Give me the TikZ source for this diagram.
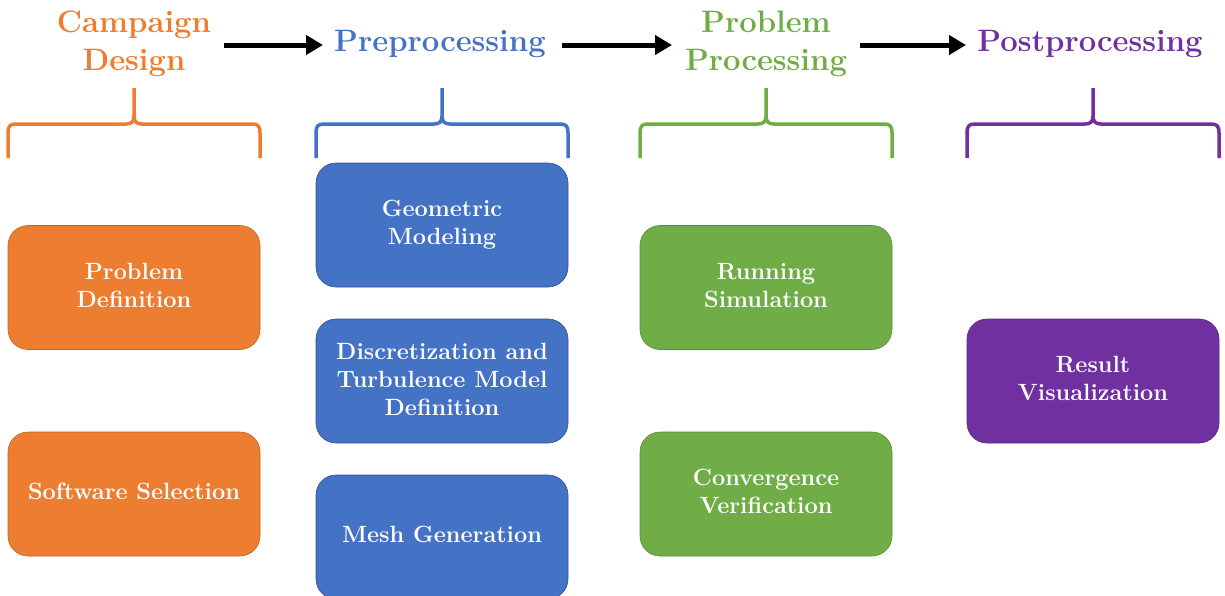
\documentclass[tikz,border=0pt]{standalone}
\usetikzlibrary{arrows.meta,positioning}
\definecolor{corange}{HTML}{ED7D31}
\definecolor{cblue}{HTML}{4472C4}
\definecolor{cgreen}{HTML}{70AD47}
\definecolor{cpurple}{HTML}{7030A0}
\begin{document}
\begin{tikzpicture}[x=1pt,y=-1pt,
  box/.style={rounded corners=20pt, minimum width=252pt, minimum height=124pt,
    align=center, text=white, font=\fontsize{23.5}{28}\selectfont\bfseries, line width=0.6pt},
  head/.style={align=center, inner sep=0pt, font=\fontsize{31}{38}\selectfont\bfseries},
  arr/.style={line width=5pt, -{Triangle[length=17pt,width=19pt]}},
  brace/.style={line width=3.5pt, line join=round, line cap=butt}]
\useasboundingbox (0,0) rectangle (1225,595);
\clip (0,0) rectangle (1225,595);
% headers
\node[head, text=corange] (h1) at (134,44) {Campaign\\Design};
\node[head, text=cblue] (h2) at (440,44) {Preprocessing};
\node[head, text=cgreen] (h3) at (766,44) {Problem\\Processing};
\node[head, text=cpurple] (h4) at (1090,44) {Postprocessing};
% arrows
\coordinate (a1s) at (224,45); \coordinate (a1e) at (323,45);
\coordinate (a2s) at (562,45); \coordinate (a2e) at (672,45);
\coordinate (a3s) at (860,45); \coordinate (a3e) at (966,45);
\draw[arr] (a1s) -- (a1e);
\draw[arr] (a2s) -- (a2e);
\draw[arr] (a3s) -- (a3e);
% braces
\foreach \cx/\col in {134/corange, 442/cblue, 766/cgreen, 1093/cpurple}{
  \draw[brace, \col] (\cx-126,158) -- (\cx-126,133) .. controls (\cx-126,126) and (\cx-124,124) .. (\cx-118,124)
    -- (\cx-8,124) .. controls (\cx-3,124) and (\cx,122) .. (\cx,116) -- (\cx,88)
    (\cx,116) .. controls (\cx,122) and (\cx+3,124) .. (\cx+8,124)
    -- (\cx+118,124) .. controls (\cx+124,124) and (\cx+126,126) .. (\cx+126,133) -- (\cx+126,158);
}
% boxes
\node[box, fill=corange, draw=corange!80!black] (b1) at (134,287.5) {Problem\\Definition\rule[-5pt]{0pt}{0pt}};
\node[box, fill=corange, draw=corange!80!black] (b2) at (134,494) {Software Selection\rule[-5pt]{0pt}{0pt}};
\node[box, fill=cblue, draw=cblue!70!black] (b3) at (442,225) {Geometric\\Modeling\rule[-3pt]{0pt}{0pt}};
\node[box, fill=cblue, draw=cblue!70!black] (b4) at (442,381) {Discretization and\\Turbulence Model\\Definition\rule[-4pt]{0pt}{0pt}};
\node[box, fill=cblue, draw=cblue!70!black] (b5) at (442,537) {Mesh Generation\rule[-6pt]{0pt}{0pt}};
\node[box, fill=cgreen, draw=cgreen!80!black] (b6) at (766,287.5) {Running\\Simulation\rule[-5pt]{0pt}{0pt}};
\node[box, fill=cgreen, draw=cgreen!80!black] (b7) at (766,494) {Convergence\\Verification\rule[-5pt]{0pt}{0pt}};
\node[box, fill=cpurple, draw=cpurple!80!black] (b8) at (1093,381) {Result\\Visualization\rule[-5pt]{0pt}{0pt}};
\end{tikzpicture}
\end{document}
